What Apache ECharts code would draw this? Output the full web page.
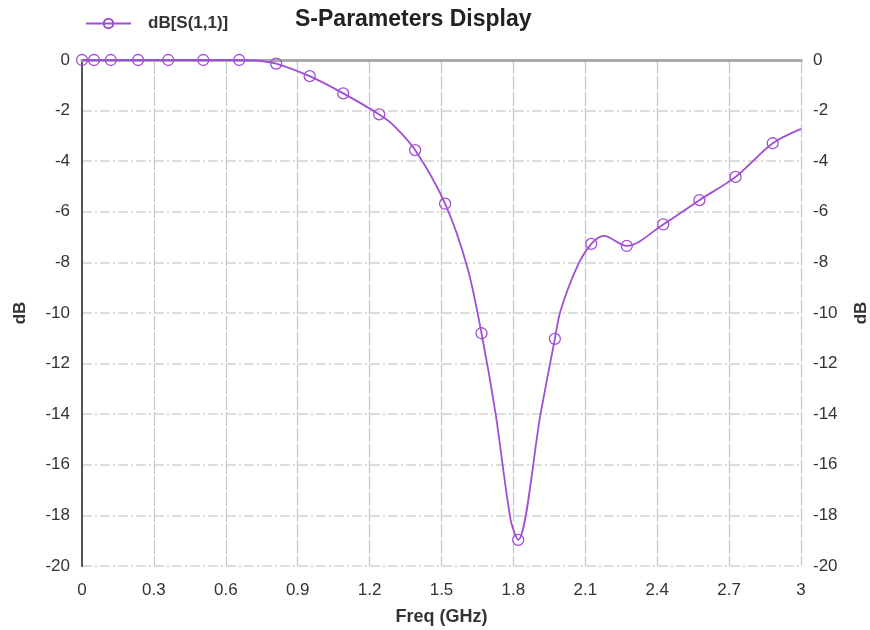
<!DOCTYPE html>
<html>
<head>
<meta charset="utf-8">
<script src="https://cdn.jsdelivr.net/npm/echarts@6/dist/echarts.min.js"></script>
<style>
  html, body { margin: 0; padding: 0; background: #fff; }
  #chart { width: 870px; height: 630px; }
</style>
</head>
<body>
<div id="chart"></div>
<script>
// curve samples (GHz, dB)
const freqs = [0, 0.05, 0.12, 0.234, 0.36, 0.506, 0.656, 0.73, 0.81, 0.95, 1.09, 1.24, 1.30, 1.39,
  1.515, 1.608, 1.667, 1.726, 1.789, 1.82, 1.914, 1.973, 1.997, 2.067, 2.125, 2.178, 2.273,
  2.425, 2.576, 2.727, 2.882, 3.0];
const s11 = [0, 0, 0, 0, 0, 0, 0, -0.02, -0.14, -0.64, -1.32, -2.15, -2.58, -3.56,
  -5.68, -8.2, -10.8, -14.0, -18.2, -18.97, -13.95, -11.02, -9.9, -8.15, -7.27, -6.95, -7.35,
  -6.5, -5.54, -4.62, -3.29, -2.72];
// which samples carry a circle marker
const markers = [1, 1, 1, 1, 1, 1, 1, 0, 1, 1, 1, 1, 0, 1,
  1, 0, 1, 0, 0, 1, 0, 1, 0, 0, 1, 0, 1,
  1, 1, 1, 1, 0];
const xTicks = { min: 0, max: 3, step: 0.3 };
const yTicks = { min: -20, max: 0, step: 2 };

const purple = '#a04fd4';
const font = 'Liberation Sans';

let seriesData = freqs.map(function (f, i) {
  let item = { value: [f, s11[i]] };
  if (!markers[i]) item.symbol = 'none';
  return item;
});

function yAxisCfg(pos, gap) {
  return {
    type: 'value',
    position: pos,
    min: yTicks.min,
    max: yTicks.max,
    interval: yTicks.step,
    name: 'dB',
    nameLocation: 'middle',
    nameRotate: 90,
    nameGap: gap,
    nameTextStyle: { fontFamily: font, fontWeight: 'bold', fontSize: 17, color: '#333' },
    axisLine: { show: true, lineStyle: { color: '#555', width: 2 } },
    axisTick: { show: false },
    axisLabel: { fontFamily: font, fontSize: 17, color: '#333', margin: 12 },
    splitLine: pos === 'left' ? {
      show: true,
      lineStyle: { color: '#d2d2d2', width: 1.5, type: [10, 3, 2, 3] }
    } : { show: false }
  };
}

let myChart = echarts.init(document.getElementById('chart'));
let option = {
  animation: false,
  backgroundColor: '#fff',
  title: {
    text: 'S-Parameters Display',
    left: 290,
    top: 3,
    textStyle: { fontFamily: font, fontWeight: 'bold', fontSize: 23, color: '#222' }
  },
  legend: {
    left: 80,
    top: 10,
    itemWidth: 45,
    itemHeight: 12,
    data: ['dB[S(1,1)]'],
    textStyle: { fontFamily: font, fontWeight: 'bold', fontSize: 17, color: '#333', padding: [0, 0, 0, 12] }
  },
  grid: {
    left: 82,
    right: 69,
    top: 60,
    bottom: 64,
    outerBoundsMode: 'none'
  },
  xAxis: [{
    type: 'value',
    min: xTicks.min,
    max: xTicks.max,
    interval: xTicks.step,
    name: 'Freq (GHz)',
    nameLocation: 'middle',
    nameGap: 42,
    nameTextStyle: { fontFamily: font, fontWeight: 'bold', fontSize: 18, color: '#333' },
    axisLine: { show: true, lineStyle: { color: '#aaa', width: 3 } },
    axisTick: { show: false },
    axisLabel: {
      fontFamily: font, fontSize: 17, color: '#333', margin: 16,
      formatter: function (v) { return String(+v.toFixed(1)); }
    },
    splitLine: { show: true, lineStyle: { color: '#c6c6c6', width: 1.2, type: [14, 2] } }
  }, {
    type: 'value',
    position: 'top',
    min: xTicks.min,
    max: xTicks.max,
    axisLine: { show: true, lineStyle: { color: '#aaa', width: 3 } },
    axisTick: { show: false },
    axisLabel: { show: false },
    splitLine: { show: false }
  }],
  yAxis: [yAxisCfg('left', 53), yAxisCfg('right', 52)],
  series: [{
    name: 'dB[S(1,1)]',
    type: 'line',
    smooth: 0.3,
    data: seriesData,
    symbol: 'circle',
    symbolSize: 11,
    showAllSymbol: true,
    lineStyle: { color: purple, width: 1.8 },
    itemStyle: { color: 'rgba(255,255,255,0)', borderColor: purple, borderWidth: 1.3 },
    z: 5
  }]
};
option && myChart.setOption(option);
</script>
</body>
</html>
